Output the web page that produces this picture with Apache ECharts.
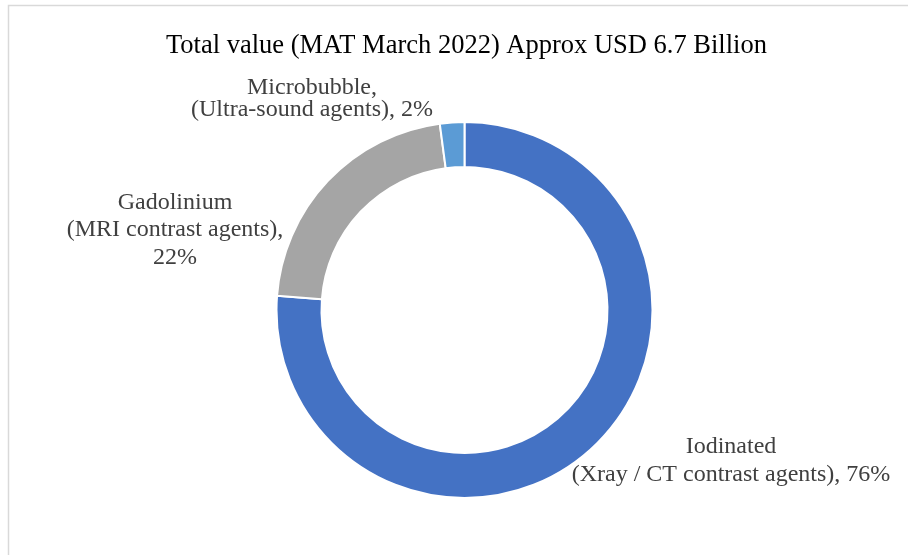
<!DOCTYPE html>
<html>
<head>
<meta charset="utf-8">
<script src="https://cdn.jsdelivr.net/npm/echarts@6/dist/echarts.min.js"></script>
<style>
  html, body { margin: 0; padding: 0; background: #fff; }
  #main { width: 908px; height: 555px; }
</style>
</head>
<body>
<div id="main"></div>
<script>
// 数据
var categories = ['Iodinated', 'Gadolinium', 'Microbubble'];
var agents = ['Xray / CT contrast agents', 'MRI contrast agents', 'Ultra-sound agents'];
var shares = [76.2, 21.7, 2.1];
var colors = ['#4472C4', '#A5A5A5', '#5B9BD5'];

// 标签位置 (中心点) 和行高
var labelPos = [[731, 461], [175, 230], [312, 99]];
var labelLineHeight = [28, 27.5, 22];

var chart = echarts.init(document.getElementById('main'));

chart.setOption({
    animation: false,
    title: {
        text: 'Total value (MAT March 2022) Approx USD 6.7 Billion',
        left: 161,
        top: 28,
        textStyle: {
            fontFamily: 'Liberation Serif',
            fontSize: 26.5,
            fontWeight: 'normal',
            color: '#000'
        }
    },
    graphic: [{
        type: 'rect',
        shape: { x: 8.5, y: 5.5, width: 1000, height: 700 },
        style: { fill: 'none', stroke: '#d9d9d9', lineWidth: 1.5 },
        silent: true
    }],
    series: [{
        type: 'pie',
        center: [464.5, 310],
        radius: [143, 188],
        startAngle: 90,
        clockwise: true,
        percentPrecision: 0,
        itemStyle: {
            borderColor: '#fff',
            borderWidth: 2
        },
        label: {
            show: true,
            position: 'outside',
            overflow: 'none',
            width: 500,
            fontFamily: 'Liberation Serif',
            fontSize: 24,
            color: '#404040',
            align: 'center',
            formatter: function (p) {
                var i = p.dataIndex;
                var pct = p.percent + '%';
                if (i === 0) return categories[i] + '\n(' + agents[i] + '), ' + pct;
                if (i === 1) return categories[i] + '\n(' + agents[i] + '),\n' + pct;
                return categories[i] + ',\n(' + agents[i] + '), ' + pct;
            }
        },
        labelLine: { show: false },
        labelLayout: function (p) {
            var pos = labelPos[p.dataIndex];
            return {
                x: pos[0],
                y: pos[1],
                align: 'center',
                verticalAlign: 'middle'
            };
        },
        data: categories.map(function (name, i) {
            return {
                name: name,
                value: shares[i],
                itemStyle: { color: colors[i] },
                label: { lineHeight: labelLineHeight[i] }
            };
        })
    }]
});
</script>
</body>
</html>
